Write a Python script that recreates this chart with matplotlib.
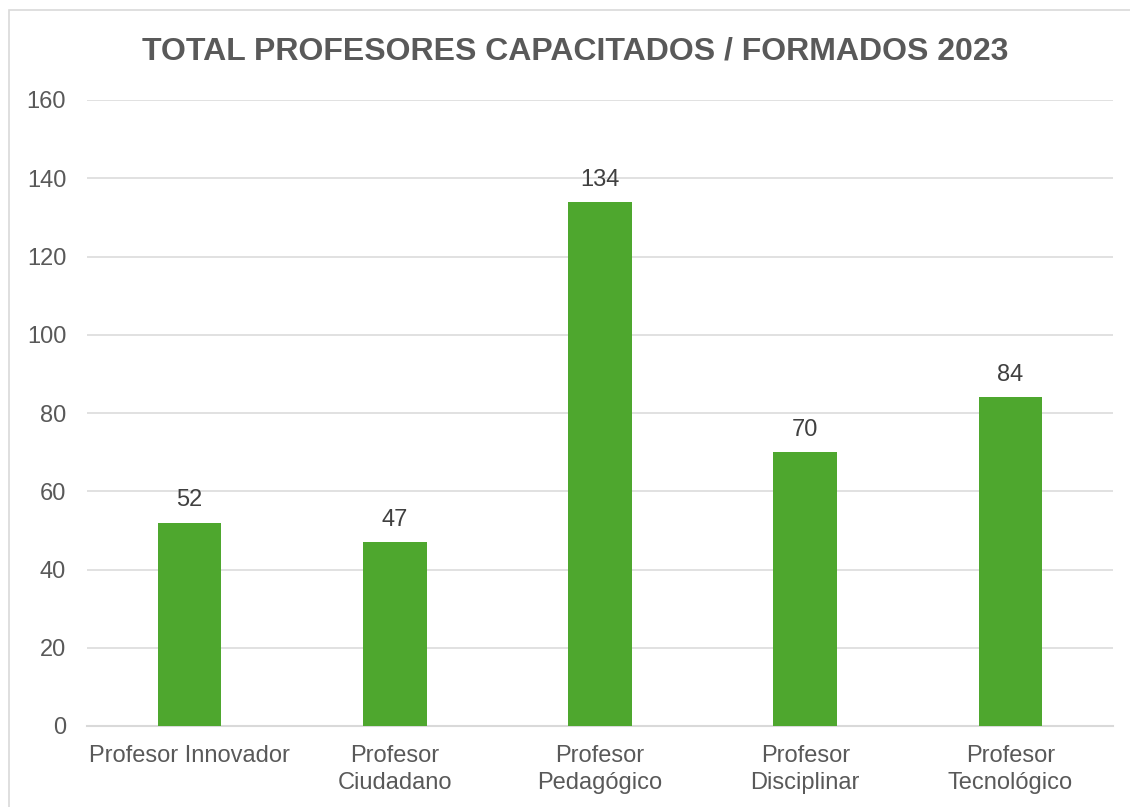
import matplotlib.pyplot as plt
from matplotlib.patches import Rectangle

categorias = ["Profesor Innovador", "Profesor\nCiudadano", "Profesor\nPedagógico",
              "Profesor\nDisciplinar", "Profesor\nTecnológico"]
valores = [52, 47, 134, 70, 84]
yticks = [0, 20, 40, 60, 80, 100, 120, 140, 160]

plt.rcParams['font.family'] = ['Liberation Sans', 'DejaVu Sans']
gris = '#595959'
verde = '#4EA72E'

fig = plt.figure(figsize=(11.3, 8.07), dpi=100)
# marco exterior del grafico (solo se ve arriba y a la izquierda)
fig.patches.append(Rectangle((9 / 1130, -0.01), 1.0, 1 - 10 / 807 + 0.01,
                             transform=fig.transFigure, fill=False,
                             edgecolor='#d9d9d9', lw=1.2))

ax = fig.add_axes([87 / 1130, 81 / 807, 1026 / 1130, 626 / 807])
x = range(len(categorias))
bars = ax.bar(x, valores, width=0.31, color=verde, zorder=3)
for b, v in zip(bars, valores):
    ax.annotate(str(v), (b.get_x() + b.get_width() / 2, v), xytext=(0, 8),
                textcoords='offset points', ha='center', va='bottom',
                fontsize=17, color='#404040')

ax.set_xlim(-0.5, 4.5)
ax.set_ylim(0, 160)
ax.set_yticks(yticks)
ax.set_xticks(list(x))
ax.set_xticklabels(categorias, linespacing=1.25)
ax.tick_params(axis='both', length=0, labelsize=17, colors=gris)
ax.tick_params(axis='y', pad=15)
ax.tick_params(axis='x', pad=14)
ax.grid(axis='y', color='#d9d9d9', lw=1.1, zorder=0)
for s in ['top', 'right', 'left']:
    ax.spines[s].set_visible(False)
ax.spines['bottom'].set_color('#d9d9d9')
ax.spines['bottom'].set_linewidth(1.5)

fig.text(575 / 1130, 1 - 51 / 807, "TOTAL PROFESORES CAPACITADOS / FORMADOS 2023",
         ha='center', va='center', fontsize=23, fontweight='bold', color=gris)

fig.savefig('out.png', dpi=100)
